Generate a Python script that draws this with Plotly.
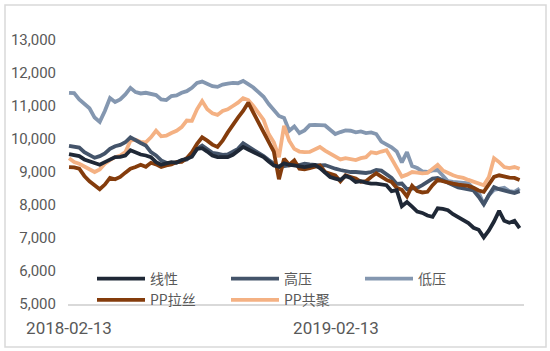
import pandas as pd
import plotly.graph_objects as go

# weekly observation dates
dates = pd.date_range("2018-02-13", periods=89, freq="7D")

xianxing = [9540, 9520, 9480, 9380, 9330, 9270, 9220, 9300, 9370, 9450,
            9460, 9500, 9660, 9580, 9530, 9500, 9450, 9300, 9220, 9260,
            9300, 9280, 9360, 9400, 9460, 9700, 9720, 9620, 9500, 9450,
            9460, 9450, 9520, 9640, 9760, 9680, 9600, 9520, 9450, 9320,
            9200, 9160, 9260, 9220, 9200, 9170, 9150, 9180, 9210, 9120,
            9000, 8850, 8800, 8760, 8880, 8820, 8700, 8720, 8680, 8650,
            8650, 8620, 8600, 8420, 8450, 7960, 8090, 7950, 7800, 7760,
            7680, 7640, 7900, 7880, 7840, 7720, 7620, 7550, 7450, 7310,
            7250, 7020, 7230, 7500, 7820, 7520, 7460, 7520, 7300]

gaoya = [9790, 9770, 9740, 9600, 9520, 9430, 9480, 9560, 9700, 9780,
         9820, 9900, 10050, 9950, 9880, 9800, 9600, 9500, 9350, 9280,
         9270, 9300, 9330, 9380, 9500, 9700, 9800, 9700, 9580, 9560,
         9520, 9530, 9600, 9700, 9870, 9780, 9680, 9580, 9480, 9360,
         9250, 9140, 9180, 9200, 9220, 9210, 9250, 9230, 9210, 9200,
         9210, 9140, 9100, 9060, 9020, 9000, 9000, 8990, 8970, 9000,
         9060, 9040, 8920, 8820, 8640, 8650, 8480, 8500, 8520, 8600,
         8700, 8800, 8820, 8740, 8660, 8600, 8530, 8500, 8460, 8440,
         8250, 8020, 8300, 8540, 8480, 8440, 8400, 8360, 8420]

diya = [11400, 11390, 11200, 11050, 10930, 10650, 10520, 10850, 11240, 11120,
        11200, 11350, 11550, 11420, 11380, 11400, 11360, 11330, 11200, 11180,
        11300, 11320, 11400, 11450, 11550, 11700, 11740, 11680, 11600, 11580,
        11650, 11680, 11700, 11690, 11760, 11660, 11560, 11420, 11280, 11060,
        10880, 10700, 10640, 10250, 10380, 10180, 10260, 10420, 10430, 10420,
        10410, 10280, 10150, 10210, 10260, 10250, 10200, 10230, 10180, 10200,
        10150, 9920, 9830, 9750, 9620, 9290, 9600, 9180, 9120, 9020,
        9000, 9050, 9060, 8900, 8720, 8700, 8690, 8680, 8660, 8500,
        8380, 8020, 8300, 8460, 8480, 8520, 8420, 8400, 8500]

pp_lasi = [9150, 9140, 9100, 8880, 8720, 8600, 8480, 8620, 8820, 8780,
           8850, 8980, 9100, 9150, 9220, 9160, 9280, 9230, 9150, 9200,
           9230, 9300, 9310, 9420, 9600, 9850, 10050, 9950, 9830, 9760,
           9950, 10200, 10450, 10650, 10850, 11100, 10800, 10500, 10200, 9950,
           9620, 8780, 9400, 9220, 9350, 9100, 9080, 9120, 9150, 9200,
           9000, 8950, 8900, 8720, 8900, 8850, 8800, 8700, 8720, 8850,
           8960, 8860, 8760, 8700, 8520, 8460, 8260, 8580, 8420, 8380,
           8400, 8600, 8760, 8720, 8670, 8650, 8620, 8600, 8580, 8520,
           8440, 8400, 8640, 8850, 8900, 8850, 8830, 8820, 8760]

pp_gongju = [9420, 9300, 9250, 9170, 9080, 9000, 9080, 9250, 9360, 9450,
             9500, 9600, 9950, 9980, 9910, 9900, 10050, 10250, 10080, 10100,
             10180, 10250, 10360, 10560, 10550, 10900, 11150, 10900, 10780, 10730,
             10850, 10900, 11000, 11100, 11240, 11180, 11000, 10800, 10580, 10150,
             9900, 9450, 10400, 9950, 9700, 9620, 9600, 9610, 9700, 9760,
             9650, 9560, 9450, 9380, 9420, 9380, 9360, 9420, 9450, 9600,
             9570, 9620, 9660, 9400, 9100, 8860, 8920, 9000, 8980, 8960,
             8970, 9100, 9220, 9050, 8960, 8900, 8850, 8820, 8760, 8700,
             8650, 8600, 8850, 9420, 9300, 9150, 9120, 9150, 9100]

series_names = ["线性", "高压", "低压", "PP拉丝", "PP共聚"]
series_values = [xianxing, gaoya, diya, pp_lasi, pp_gongju]
series_colors = ["#1f2836", "#44546a", "#8497b0", "#843c0c", "#f4b183"]

tick_dates = ["2018-02-13", "2019-02-13"]
y_ticks = [5000, 6000, 7000, 8000, 9000, 10000, 11000, 12000, 13000]

fig = go.Figure()
# draw order: lighter lines behind darker ones
order = [2, 4, 1, 3, 0]
for i in order:
    fig.add_trace(go.Scatter(
        x=dates, y=series_values[i], name=series_names[i], mode="lines",
        line=dict(color=series_colors[i], width=3.8), legendrank=i + 1,
    ))

W, H = 550, 351
L, R, T, B = 68, 26, 40, 47
pw, ph = W - L - R, H - T - B

def px_x(p):
    return (p - L) / pw

def px_y(p):
    return (H - B - p) / ph

fig.update_layout(
    width=W, height=H,
    margin=dict(l=L, r=R, t=T, b=B, pad=0, autoexpand=False),
    paper_bgcolor="white", plot_bgcolor="white",
    font=dict(family="Roboto, 'Noto Sans CJK SC', sans-serif", color="#595959", size=15),
    showlegend=True,
    legend=dict(
        orientation="h", x=px_x(92), xanchor="left", y=px_y(263), yanchor="top",
        bgcolor="rgba(0,0,0,0)", entrywidth=71, entrywidthmode="pixels",
        font=dict(family="'Noto Sans CJK SC', Roboto, sans-serif", size=14, color="#595959"),
        tracegroupgap=0, itemwidth=48, traceorder="normal",
    ),
    xaxis=dict(
        type="date", range=["2018-02-11 15:00", "2019-10-28"],
        tickvals=tick_dates, ticktext=tick_dates,
        showgrid=False, zeroline=False, showline=True, linecolor="#d9d9d9", linewidth=1.5,
        ticks="outside", ticklen=8, tickcolor="rgba(0,0,0,0)",
        tickfont=dict(size=17, color="#595959"),
    ),
    yaxis=dict(
        range=[5000, 13000], tickvals=y_ticks, tickformat=",d",
        showgrid=False, zeroline=False, showline=False,
        ticks="outside", ticklen=8, tickcolor="rgba(0,0,0,0)",
        tickfont=dict(size=15, color="#595959"),
    ),
    shapes=[dict(type="rect", xref="paper", yref="paper",
                 x0=px_x(5), x1=px_x(546), y0=px_y(347), y1=px_y(5),
                 line=dict(color="#d9d9d9", width=1.5), fillcolor="rgba(0,0,0,0)")],
)

fig.write_html("out.html")
